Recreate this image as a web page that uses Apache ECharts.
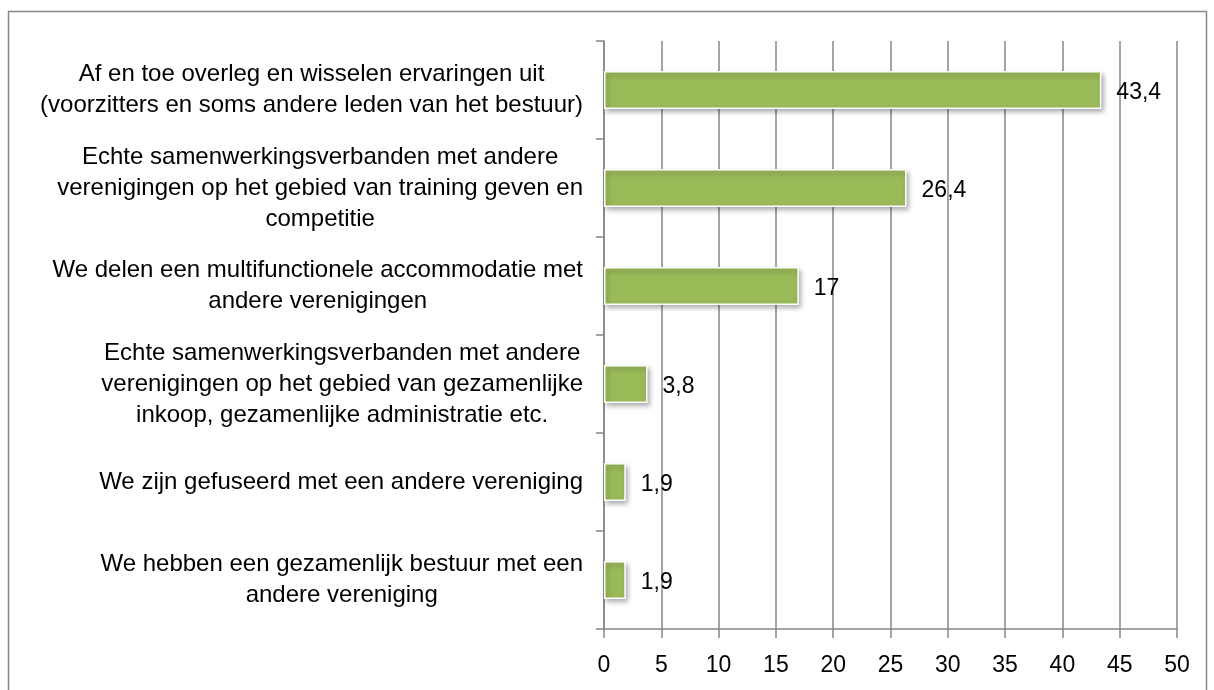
<!DOCTYPE html>
<html>
<head>
<meta charset="utf-8">
<script src="https://cdn.jsdelivr.net/npm/echarts@6/dist/echarts.min.js"></script>
<style>
html,body{margin:0;padding:0;background:#fff;}
#chart{width:1214px;height:690px;}
</style>
</head>
<body>
<div id="chart"></div>
<script>
const categories = [
  "Af en toe overleg en wisselen ervaringen uit\n(voorzitters en soms andere leden van het bestuur)",
  "Echte samenwerkingsverbanden met andere\nverenigingen op het gebied van training geven en\ncompetitie",
  "We delen een multifunctionele accommodatie met\nandere verenigingen",
  "Echte samenwerkingsverbanden met andere\nverenigingen op het gebied van gezamenlijke\ninkoop, gezamenlijke administratie etc.",
  "We zijn gefuseerd met een andere vereniging",
  "We hebben een gezamenlijk bestuur met een\nandere vereniging"
];
const values = [43.4, 26.4, 17, 3.8, 1.9, 1.9];
const xTicks = [0, 5, 10, 15, 20, 25, 30, 35, 40, 45, 50];

const font = "Liberation Sans, Arial, sans-serif";
const chart = echarts.init(document.getElementById('chart'));
chart.setOption({
  animation: false,
  backgroundColor: '#ffffff',
  graphic: [{
    type: 'rect',
    shape: {x: 8.5, y: 11.5, width: 1198, height: 700},
    style: {fill: 'none', stroke: '#888888', lineWidth: 1.5},
    silent: true
  }],
  grid: {left: 604, right: 37, top: 41, bottom: 61, containLabel: false},
  xAxis: {
    type: 'value',
    min: xTicks[0],
    max: xTicks[xTicks.length - 1],
    interval: 5,
    axisLine: {show: true, lineStyle: {color: '#878787', width: 1.5}},
    axisTick: {show: true, length: 9, lineStyle: {color: '#878787', width: 1.5}},
    splitLine: {show: true, lineStyle: {color: '#878787', width: 1.5}},
    axisLabel: {color: '#000', fontSize: 23, fontFamily: font, margin: 25}
  },
  yAxis: {
    type: 'category',
    inverse: true,
    data: categories,
    axisLine: {show: true, lineStyle: {color: '#878787', width: 1.5}},
    axisTick: {show: true, length: 8, lineStyle: {color: '#878787', width: 1.5}},
    axisLabel: {
      color: '#000', fontSize: 24, fontFamily: font, lineHeight: 31,
      align: 'right', margin: 21,
      formatter: v => v.split('\n').map(l => '{c|' + l + '}').join('\n'),
      rich: {c: {align: 'center', fontSize: 24, fontFamily: font, lineHeight: 31, color: '#000'}}
    }
  },
  series: [{
    type: 'bar',
    data: values,
    barWidth: 38,
    itemStyle: {
      color: '#9BBB59',
      borderColor: '#ffffff',
      borderWidth: 1.5,
      shadowBlur: 5,
      shadowOffsetX: 2,
      shadowOffsetY: 3,
      shadowColor: 'rgba(0,0,0,0.35)'
    },
    label: {
      show: true,
      position: 'right',
      distance: 15,
      offset: [0, 3],
      color: '#000',
      fontSize: 23,
      fontFamily: font,
      formatter: p => String(p.value).replace('.', ',')
    }
  }]
});
</script>
</body>
</html>
